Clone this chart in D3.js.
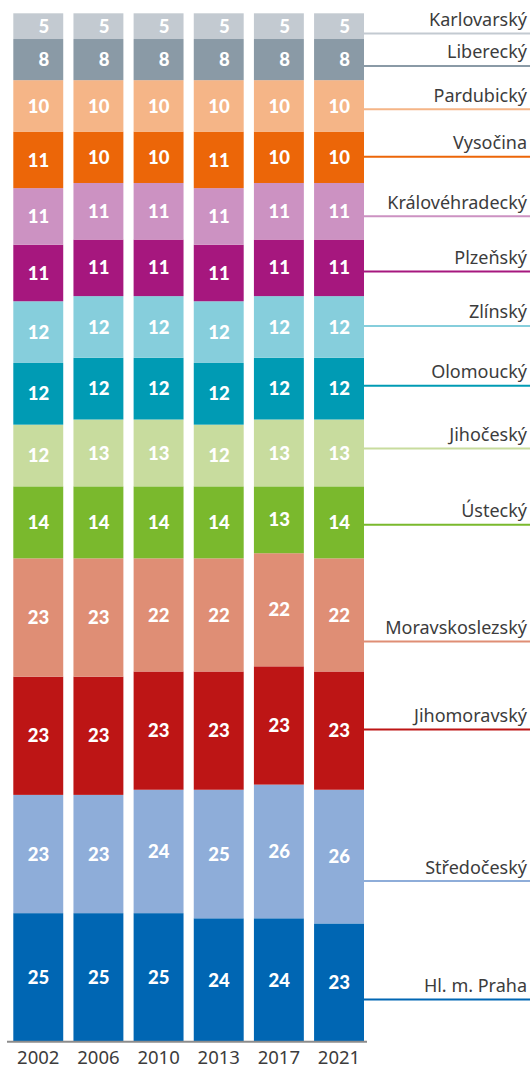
<!DOCTYPE html>
<html>
<head>
<meta charset="utf-8">
<script src="https://cdn.jsdelivr.net/npm/d3@7"></script>
<style>
  body { margin: 0; background: #fff; }
  svg { display: block; }
</style>
</head>
<body>
<svg width="530" height="1068"></svg>
<script>
// volební období
var years = ["2002", "2006", "2010", "2013", "2017", "2021"];

// kraje odspodu nahoru
var regions = ["Hl. m. Praha", "Středočeský", "Jihomoravský", "Moravskoslezský", "Ústecký", "Jihočeský",
  "Olomoucký", "Zlínský", "Plzeňský", "Královéhradecký", "Vysočina", "Pardubický", "Liberecký", "Karlovarský"];

// počet mandátů, stejné pořadí jako regions
var seats2002 = [25, 23, 23, 23, 14, 12, 12, 12, 11, 11, 11, 10, 8, 5];
var seats2006 = [25, 23, 23, 23, 14, 13, 12, 12, 11, 11, 10, 10, 8, 5];
var seats2010 = [25, 24, 23, 22, 14, 13, 12, 12, 11, 11, 10, 10, 8, 5];
var seats2013 = [24, 25, 23, 22, 14, 12, 12, 12, 11, 11, 11, 10, 8, 5];
var seats2017 = [24, 26, 23, 22, 13, 13, 12, 12, 11, 11, 10, 10, 8, 5];
var seats2021 = [23, 26, 23, 22, 14, 13, 12, 12, 11, 11, 10, 10, 8, 5];

var colors = ["#0066b3", "#8eadd9", "#bd1515", "#df8e75", "#7ab92d", "#c8dc9e",
  "#009bb4", "#86cedc", "#a6177e", "#cc92c2", "#ec6608", "#f5b587", "#8a9aa6", "#c3cad1"];

// posun popisků vpravo (px) oproti středu segmentu 2021
var labelNudge = [17, 24.5, -1, 26.5, 2.5, -4.4, -2.8, -1, 3.7, 5, -0.6, 3.5, 6.4, 7.3];

function main() {
  var svg = d3.select("svg");
  var allSeats = [seats2002, seats2006, seats2010, seats2013, seats2017, seats2021];

  var table = years.map(function(y, i) {
    var row = { year: y };
    regions.forEach(function(r, j) { row[r] = allSeats[i][j]; });
    return row;
  });

  var stack = d3.stack().keys(regions)(table);

  var x = d3.scaleBand().domain(years).range([13.3, 364]).paddingInner(0.17).paddingOuter(0);
  var y = d3.scaleLinear().domain([0, 200]).range([1041.7, 13.3]);
  var color = d3.scaleOrdinal().domain(regions).range(colors);

  var layers = svg.append("g").selectAll("g")
    .data(stack)
    .enter().append("g")
    .attr("fill", function(d) { return color(d.key); });

  layers.selectAll("rect")
    .data(function(d) { return d; })
    .enter().append("rect")
    .attr("x", function(d) { return x(d.data.year); })
    .attr("y", function(d) { return y(d[1]); })
    .attr("width", x.bandwidth())
    .attr("height", function(d) { return y(d[0]) - y(d[1]); });

  layers.selectAll("text")
    .data(function(d) { return d; })
    .enter().append("text")
    .attr("x", function(d) { return x(d.data.year) + x.bandwidth() / 2 + 11; })
    .attr("y", function(d) { return (y(d[0]) + y(d[1])) / 2; })
    .attr("dy", "0.36em")
    .attr("text-anchor", "end")
    .attr("fill", "#fff")
    .attr("font-family", "Lato, sans-serif")
    .attr("font-weight", 900)
    .attr("font-size", "18.5px")
    .text(function(d) { return d[1] - d[0]; });

  // popisky krajů s linkou vpravo
  var last = years[years.length - 1];
  var right = x(last) + x.bandwidth();
  var labels = svg.append("g").selectAll("g")
    .data(stack)
    .enter().append("g")
    .attr("transform", function(d, i) {
      var seg = d[d.length - 1];
      var ly = (y(seg[0]) + y(seg[1])) / 2 + labelNudge[i];
      return "translate(0," + ly + ")";
    });

  labels.append("line")
    .attr("x1", right).attr("x2", 530)
    .attr("stroke", function(d) { return color(d.key); })
    .attr("stroke-width", 2);

  labels.append("text")
    .attr("x", 527).attr("y", -7.5)
    .attr("text-anchor", "end")
    .attr("fill", "#3c3c3c")
    .attr("font-family", "'Noto Sans', sans-serif")
    .attr("font-size", "18px")
    .text(function(d) { return d.key; });

  // osa x
  var axis = svg.append("g")
    .attr("transform", "translate(0," + y(0) + ")")
    .call(d3.axisBottom(x).tickSize(0).tickPadding(0));
  axis.select(".domain").remove();
  axis.insert("line", ":first-child")
    .attr("x1", 7).attr("x2", right + 3)
    .attr("stroke", "#8c8c8c").attr("stroke-width", 2);
  axis.selectAll("text")
    .attr("y", 22)
    .attr("dy", null)
    .attr("font-family", "'Noto Sans', sans-serif")
    .attr("font-size", "18.5px")
    .attr("fill", "#3c3c3c");
}
main();
</script>
</body>
</html>
